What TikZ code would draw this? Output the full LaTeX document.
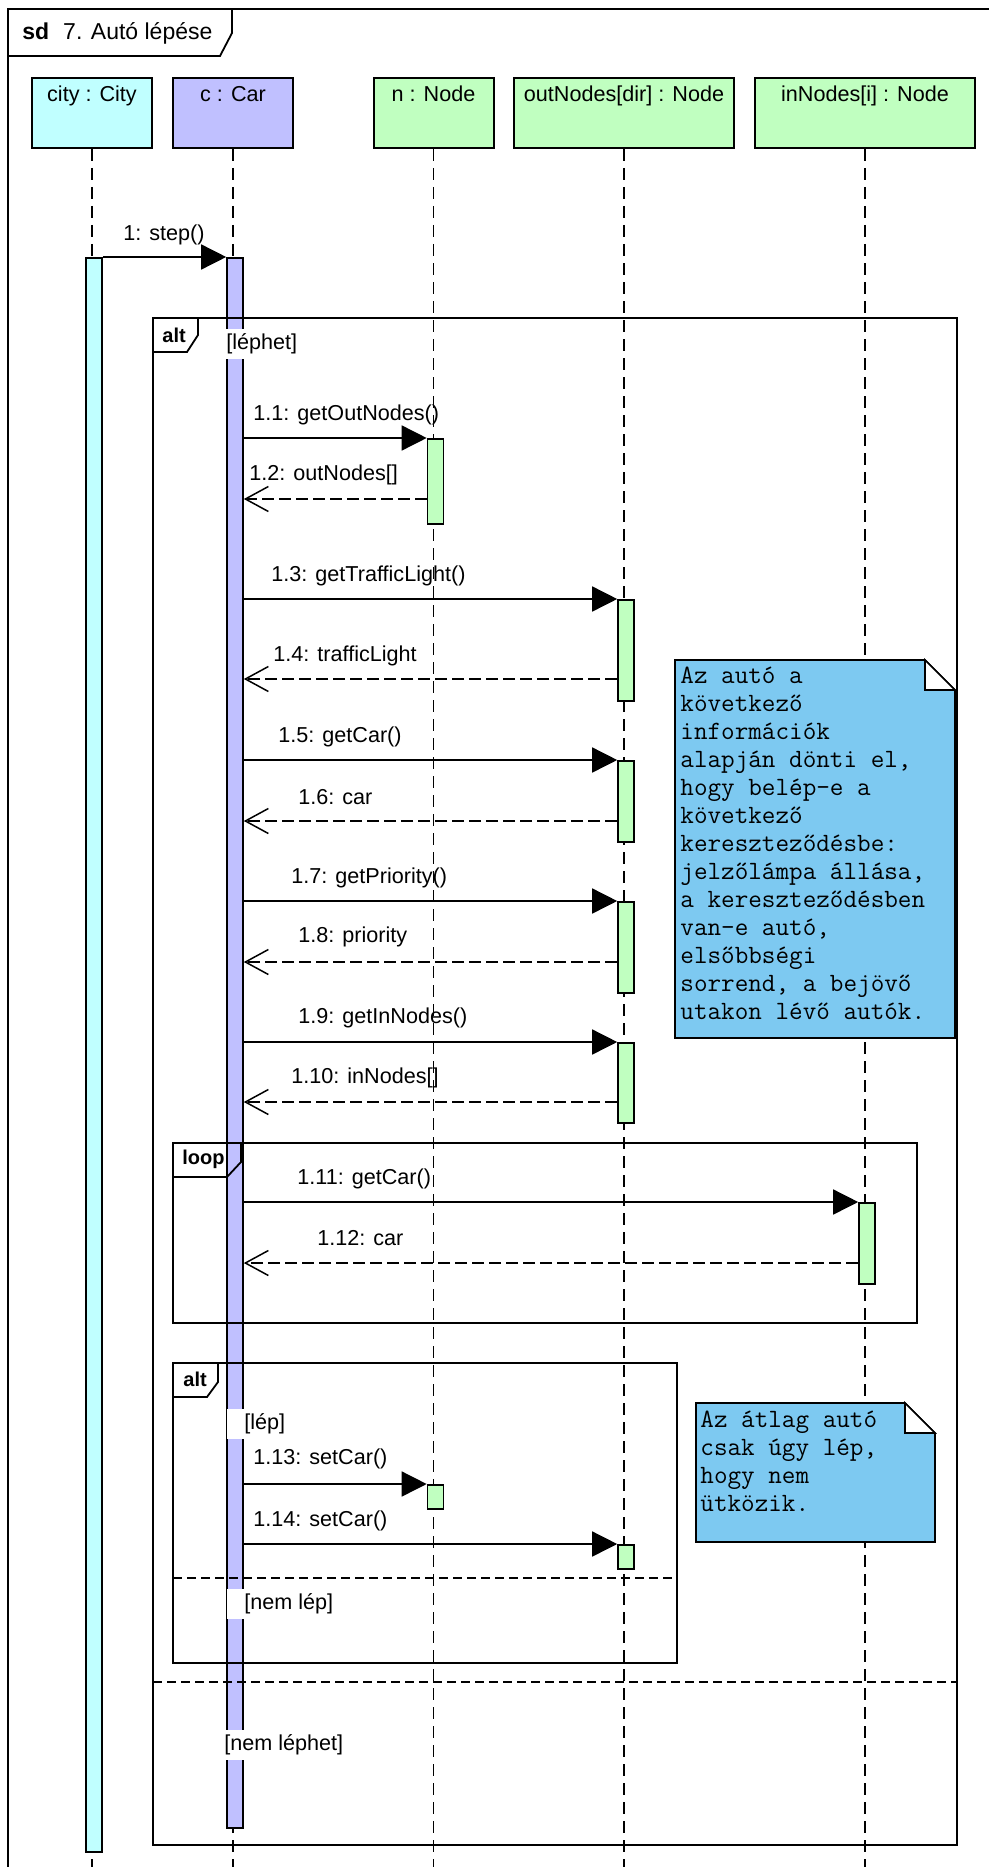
\documentclass[tikz,border=0pt]{standalone}
\usepackage{fontspec}
\setmainfont{Liberation Sans}
\usetikzlibrary{arrows.meta,positioning}
\definecolor{sqcity}{HTML}{C0FFFF}
\definecolor{sqcar}{HTML}{C0C0FF}
\definecolor{sqnode}{HTML}{C0FFC0}
\definecolor{sqnote}{HTML}{7DC9F1}
\tikzset{
  head/.style    ={draw, line width=1pt, anchor=north, minimum height=35pt,
                   text height=10.3pt, text depth=21.7pt, inner ysep=1.5pt, inner xsep=2pt},
  act/.style     ={draw, line width=0.8pt, anchor=north, minimum width=8pt,
                   inner sep=0pt, xshift=1pt},
  lifeline/.style={line width=0.75pt, dash pattern=on 6pt off 3.5pt},
  call/.style    ={-{Triangle[length=12.5pt,width=12.5pt]}, line width=0.75pt},
  reply/.style   ={-{Straight Barb[length=11.5pt,width=12.5pt]}, line width=0.75pt,
                   dash pattern=on 6pt off 2.5pt},
  frag/.style    ={line width=0.9pt},
  sepline/.style ={line width=0.9pt, dash pattern=on 4.5pt off 2.5pt},
  msg/.style     ={anchor=west, inner sep=0pt},
  guard/.style   ={anchor=west, fill=white, inner xsep=1pt, inner ysep=2.5pt},
  tab/.style     ={anchor=west, inner sep=0pt, font=\bfseries},
  note/.style    ={draw, line width=0.8pt, fill=sqnote},
  notetext/.style={anchor=north west, inner sep=0pt, align=left,
                   font=\ttfamily\fontsize{13.2}{14}\selectfont},
}
\begin{document}
\begin{tikzpicture}[x=0.5pt, y=-0.5pt, font=\fontsize{10.8}{13}\selectfont]
  \useasboundingbox (0,0) rectangle (989,1867);
  \clip (0,0) rectangle (989,1867);
  % diagram frame
  \draw[frag] (8,1880) -- (8,9) -- (991,9) -- (991,1880);
  \draw[frag] (8,56) -- (220,56) -- (232,33) -- (232,9);
  \node[anchor=west, inner sep=0pt, font=\fontsize{11.5}{13}\selectfont] (title) at (22,33)
    {\textbf{sd}\hspace{7pt}7. Autó lépése};

  % lifelines
  \node[head, fill=sqcity, minimum width=60pt] (city) at (92,77) {city : City};
  \node[head, fill=sqcar, minimum width=60pt] (car) at (233,77) {c : Car};
  \node[head, fill=sqnode, minimum width=60pt] (n) at (433.5,77) {n : Node};
  \node[head, fill=sqnode, minimum width=110pt] (outn) at (624,77) {outNodes[dir] : Node};
  \node[head, fill=sqnode, minimum width=110pt] (inn) at (865,77) {inNodes[i] : Node};
  \draw[lifeline] (city.south) -- (city.south |- 0,1875);
  \draw[lifeline] (car.south) -- (car.south |- 0,1875);
  \draw[lifeline] (n.south) -- (n.south |- 0,1875);
  \draw[lifeline] (outn.south) -- (outn.south |- 0,1875);
  \draw[lifeline] (inn.south) -- (inn.south |- 0,1875);

  % activations
  \node[act, fill=sqcity, minimum height=797pt] (actCity) at (city.south |- 0,257) {};
  \node[act, fill=sqcar, minimum height=785pt] (actCar) at (car.south |- 0,257) {};
  \node[act, fill=sqnode, minimum height=42.5pt] (n1) at (n.south |- 0,438) {};
  \node[act, fill=sqnode, minimum height=50.5pt] (o1) at (outn.south |- 0,599) {};
  \node[act, fill=sqnode, minimum height=40.5pt] (o2) at (outn.south |- 0,760) {};
  \node[act, fill=sqnode, minimum height=45.5pt] (o3) at (outn.south |- 0,901) {};
  \node[act, fill=sqnode, minimum height=40pt] (o4) at (outn.south |- 0,1042) {};
  \node[act, fill=sqnode, minimum height=40.5pt] (i1) at (inn.south |- 0,1202) {};
  \node[act, fill=sqnode, minimum height=12pt] (n2) at (n.south |- 0,1484) {};
  \node[act, fill=sqnode, minimum height=12pt] (o5) at (outn.south |- 0,1544) {};

  % combined fragments
  \draw[frag] (153,318) rectangle (957,1845);
  \draw[frag] (153,352) -- (187,352) -- (198,335) -- (198,318);
  \node[tab] (alt1) at (162,335) {alt};
  \draw[sepline] (153,1682) -- (957,1682);
  \draw[frag] (173,1143) rectangle (917,1323);
  \draw[frag] (173,1177) -- (227,1177) -- (241,1162) -- (241,1143);
  \node[tab] (loop1) at (182,1159) {loop};
  \draw[frag] (173,1363) rectangle (677,1663);
  \draw[frag] (173,1397) -- (207,1397) -- (218,1382) -- (218,1363);
  \node[tab] (alt2) at (183,1379) {alt};
  \draw[sepline] (173,1578) -- (677,1578);

  % guards
  \node[guard] (g1) at (224,344) {[léphet]};
  \node[guard] (g2) at (227,1424) {\hspace*{7.5pt}[lép]};
  \node[guard] (g3) at (227,1604) {\hspace*{7.5pt}[nem lép]};
  \node[guard] (g4) at (222,1745) {[nem léphet]};

  % messages
  \draw[call] (actCity.north east) -- (actCar.north west);
  \node[msg] (m1) at (123,235) {1: step()};
  \draw[call] (actCar.east |- n1.north) -- (n1.north west);
  \node[msg] (m11) at (253,415) {1.1: getOutNodes()};
  \draw[reply] (n1.west |- 0,499) -- (actCar.east |- 0,499);
  \node[msg] (m12) at (249,475) {1.2: outNodes[]};
  \draw[call] (actCar.east |- o1.north) -- (o1.north west);
  \node[msg] (m13) at (271,576) {1.3: getTrafficLight()};
  \draw[reply] (o1.west |- 0,679) -- (actCar.east |- 0,679);
  \node[msg] (m14) at (273,656) {1.4: trafficLight};
  \draw[call] (actCar.east |- o2.north) -- (o2.north west);
  \node[msg] (m15) at (278,737) {1.5: getCar()};
  \draw[reply] (o2.west |- 0,821) -- (actCar.east |- 0,821);
  \node[msg] (m16) at (298,797) {1.6: car};
  \draw[call] (actCar.east |- o3.north) -- (o3.north west);
  \node[msg] (m17) at (291,878) {1.7: getPriority()};
  \draw[reply] (o3.west |- 0,962) -- (actCar.east |- 0,962);
  \node[msg] (m18) at (298,937) {1.8: priority};
  \draw[call] (actCar.east |- o4.north) -- (o4.north west);
  \node[msg] (m19) at (298,1018) {1.9: getInNodes()};
  \draw[reply] (o4.west |- 0,1102) -- (actCar.east |- 0,1102);
  \node[msg] (m110) at (291,1078) {1.10: inNodes[]};
  \draw[call] (actCar.east |- i1.north) -- (i1.north west);
  \node[msg] (m111) at (297,1179) {1.11: getCar()};
  \draw[reply] (i1.west |- 0,1263) -- (actCar.east |- 0,1263);
  \node[msg] (m112) at (317,1238) {1.12: car};
  \draw[call] (actCar.east |- n2.north) -- (n2.north west);
  \node[msg] (m113) at (253,1459) {1.13: setCar()};
  \draw[call] (actCar.east |- o5.north) -- (o5.north west);
  \node[msg] (m114) at (253,1521) {1.14: setCar()};

  % notes
  \draw[note] (675,660) -- (925,660) -- (955,690) -- (955,1038) -- (675,1038) -- cycle;
  \draw[note, fill=white] (925,660) -- (925,690) -- (955,690) -- cycle;
  \node[notetext] (note1) at (680,667) {Az autó a\\következő\\információk\\alapján dönti el,\\hogy belép-e a\\következő\\kereszteződésbe:\\jelzőlámpa állása,\\a kereszteződésben\\van-e autó,\\elsőbbségi\\sorrend, a bejövő\\utakon lévő autók.};
  \draw[note] (696,1403) -- (905,1403) -- (935,1433) -- (935,1542) -- (696,1542) -- cycle;
  \draw[note, fill=white] (905,1403) -- (905,1433) -- (935,1433) -- cycle;
  \node[notetext] (note2) at (700,1411) {Az átlag autó\\csak úgy lép,\\hogy nem\\ütközik.};
\end{tikzpicture}
\end{document}
